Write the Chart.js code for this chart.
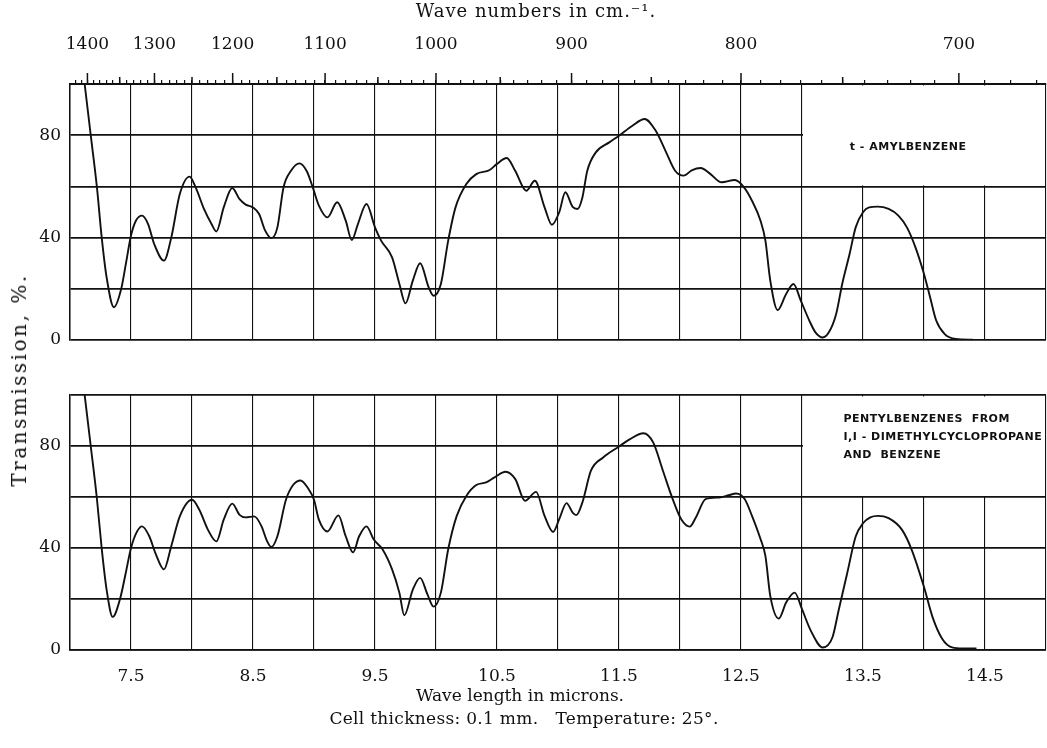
<!DOCTYPE html>
<html>
<head>
<meta charset="utf-8">
<script src="https://cdn.jsdelivr.net/npm/chart.js@4.4.1/dist/chart.umd.min.js"></script>
<style>
  body { margin: 0; background: #fff; }
  #wrap { position: relative; width: 1047px; height: 748px; overflow: hidden; }
  #topChart { position: absolute; left: 0; top: 0; }
  #bottomChart { position: absolute; left: 0; top: 345px; }
  #ylabel {
    position: absolute; left: 19px; top: 380px;
    transform: translate(-50%, -50%) rotate(-90deg);
    font: 20px "DejaVu Serif", serif; letter-spacing: 2.5px;
    white-space: nowrap; color: #111;
  }
</style>
</head>
<body>
<div id="wrap">
  <canvas id="topChart" width="1047" height="345"></canvas>
  <canvas id="bottomChart" width="1047" height="403"></canvas>
  <div id="ylabel">Transmission, %.</div>
</div>
<script>
// wave length (microns) and transmission (%)
var amylMicrons = [7.12, 7.17, 7.22, 7.26, 7.30, 7.36, 7.42, 7.46, 7.50, 7.54,
  7.59, 7.64, 7.69, 7.77, 7.83, 7.90, 7.98, 8.03, 8.10, 8.16,
  8.20, 8.26, 8.33, 8.39, 8.44, 8.50, 8.55, 8.60, 8.65, 8.70,
  8.75, 8.81, 8.88, 8.94, 8.99, 9.04, 9.11, 9.19, 9.26, 9.31,
  9.36, 9.43, 9.50, 9.55, 9.64, 9.70, 9.75, 9.81, 9.87, 9.94,
  9.98, 10.04, 10.10, 10.16, 10.25, 10.33, 10.44, 10.50, 10.58, 10.65,
  10.74, 10.81, 10.89, 10.95, 11.01, 11.06, 11.12, 11.16, 11.20, 11.24,
  11.31, 11.42, 11.50, 11.61, 11.71, 11.80, 11.88, 11.96, 12.03, 12.10,
  12.17, 12.25, 12.34, 12.45, 12.52, 12.59, 12.66, 12.70, 12.74, 12.80,
  12.87, 12.93, 12.99, 13.06, 13.11, 13.17, 13.22, 13.28, 13.33, 13.39,
  13.44, 13.50, 13.55, 13.62, 13.71, 13.79, 13.86, 13.93, 14.00, 14.05,
  14.10, 14.17, 14.26, 14.40];
var amylTrans = [100, 80, 60, 40, 24.5, 12.8, 20, 30.3, 40.8, 46.6,
  48.6, 45.3, 37.5, 31, 40, 57, 63.8, 59.6, 51, 45.3,
  42.4, 51.8, 59.4, 55, 52.9, 51.8, 49.2, 42.7, 39.8, 44,
  59.6, 66, 69, 66, 59.6, 52.5, 47.9, 53.8, 46.6, 39,
  45.3, 53.1, 44, 38.8, 32.3, 21.9, 14.3, 23.2, 30, 20.6,
  17.3, 21.9, 38.8, 51.8, 61, 64.8, 66.4, 68.8, 71.1, 66,
  58.3, 62.2, 51.8, 45, 49.9, 57.7, 52, 51.2, 55.7, 66.1,
  73.3, 77.2, 79.8, 83.7, 86.3, 81.8, 74, 66.1, 64.2, 66.4,
  67.2, 64.8, 61.6, 62.5, 59.9, 54.4, 46.6, 38.8, 23.2, 11.7,
  18, 21.9, 15.4, 7.6, 3, 1, 3, 10.2, 22, 33.6,
  44, 49.9, 51.8, 52.1, 51.2, 48.6, 44, 36.2, 25.8, 16.7,
  7.6, 2.3, 0.4, 0.1];

var pentylMicrons = [7.12, 7.17, 7.22, 7.26, 7.30, 7.35, 7.41, 7.46, 7.50, 7.55,
  7.59, 7.65, 7.70, 7.77, 7.83, 7.90, 8.00, 8.06, 8.13, 8.20,
  8.26, 8.33, 8.39, 8.44, 8.51, 8.57, 8.61, 8.65, 8.70, 8.77,
  8.83, 8.89, 8.95, 9.00, 9.04, 9.11, 9.20, 9.26, 9.32, 9.37,
  9.43, 9.49, 9.56, 9.64, 9.70, 9.74, 9.81, 9.87, 9.93, 9.98,
  10.04, 10.10, 10.17, 10.25, 10.33, 10.41, 10.48, 10.57, 10.65, 10.73,
  10.82, 10.89, 10.96, 11.01, 11.07, 11.12, 11.15, 11.20, 11.27, 11.37,
  11.50, 11.59, 11.70, 11.78, 11.86, 11.94, 12.01, 12.08, 12.13, 12.21,
  12.32, 12.40, 12.46, 12.53, 12.59, 12.66, 12.70, 12.74, 12.81, 12.87,
  12.94, 13.00, 13.07, 13.17, 13.25, 13.30, 13.37, 13.44, 13.50, 13.56,
  13.62, 13.71, 13.82, 13.90, 14.00, 14.07, 14.15, 14.23, 14.32, 14.43];
var pentylTrans = [100, 80, 59.6, 39.8, 23.7, 13, 20, 30.9, 40, 46.5,
  48.5, 44.6, 38, 31.6, 40.7, 52.4, 58.9, 55, 47.2, 42.6,
  51.1, 57.4, 53, 52, 52.4, 48.5, 43.3, 40.4, 44.6, 58.9,
  64.8, 66.5, 63.5, 58.9, 51.1, 46.5, 52.8, 44.6, 38.3, 44.6,
  48.5, 43.3, 39.6, 31.6, 22.4, 13.6, 23.7, 28.3, 21.8, 17,
  22.5, 39.5, 52.6, 60.5, 64.7, 65.7, 67.7, 69.9, 67, 58.5,
  62, 52.6, 46.3, 51.3, 57.6, 53.9, 52.9, 57.9, 70.3, 75.5,
  79.8, 82.7, 85, 81.4, 70.3, 59.2, 51.3, 48.4, 52, 59.2,
  59.8, 60.7, 61.4, 59.2, 52.6, 43.5, 36.9, 21.2, 12.3, 18.6,
  22.5, 16, 7.8, 1, 5, 15.5, 30, 44.5, 49.7, 52,
  52.6, 51.7, 47.1, 39.2, 24.7, 12.9, 4.3, 1, 0.6, 0.6];

// tick labels
var waveNumberLabels = [1400, 1300, 1200, 1100, 1000, 900, 800, 700];
var micronLabels = [7.5, 8.5, 9.5, 10.5, 11.5, 12.5, 13.5, 14.5];
var transLabels = [0, 40, 80];
var amylName = ["t - AMYLBENZENE"];
var pentylName = ["PENTYLBENZENES  FROM", "I,I - DIMETHYLCYCLOPROPANE", "AND  BENZENE"];

// top scale has a tick every 10 cm-1
var waveTicks = [];
for (var n = 1420; n >= 670; n -= 10) waveTicks.push(n);

var ink = "#111";
var serif = '"DejaVu Serif", serif';
Chart.defaults.font.family = serif;
Chart.defaults.color = ink;

function pairs(xs, ys) {
  return xs.map(function (x, i) { return { x: x, y: ys[i] }; });
}

// blank box in the upper right corner with the sample name
var labelBox = {
  id: "labelBox",
  beforeDatasetsDraw: function (chart, args, opts) {
    var xs = chart.scales.x, ys = chart.scales.y, ctx = chart.ctx;
    var l = xs.getPixelForValue(13), r = xs.getPixelForValue(15);
    var t = ys.getPixelForValue(100), b = ys.getPixelForValue(60);
    ctx.save();
    ctx.fillStyle = "#fff";
    ctx.fillRect(l + 1, t + 1.5, r - l - 2, b - t - 2.5);
    ctx.fillStyle = ink;
    ctx.font = 'bold 11px "DejaVu Sans", sans-serif';
    ctx.letterSpacing = "0.5px";
    ctx.textAlign = opts.align;
    ctx.textBaseline = "middle";
    var tx = xs.getPixelForValue(opts.x), ty = ys.getPixelForValue(opts.y);
    opts.lines.forEach(function (s, i) { ctx.fillText(s, tx, ty + i * 18); });
    ctx.restore();
  }
};

// axis captions, set a little left of the plot centre as in the print
var captions = {
  id: "captions",
  afterDraw: function (chart, args, opts) {
    var a = chart.chartArea, ctx = chart.ctx;
    ctx.save();
    ctx.fillStyle = ink;
    ctx.textAlign = "center";
    ctx.textBaseline = "middle";
    opts.items.forEach(function (it) {
      ctx.font = it.size + "px " + serif;
      ctx.letterSpacing = it.spacing + "px";
      ctx.fillText(it.text, (a.left + a.right) / 2 + it.dx, it.y);
    });
    ctx.restore();
  }
};

// longer marks on the wave number scale at 50 and 100
var waveMarks = {
  id: "waveMarks",
  afterDraw: function (chart) {
    var s = chart.scales.x2, ctx = chart.ctx;
    ctx.save();
    ctx.strokeStyle = ink;
    ctx.lineWidth = 1.5;
    waveTicks.forEach(function (n) {
      var len = n % 100 === 0 ? 11 : (n % 50 === 0 ? 7 : 0);
      if (!len) return;
      var px = s.getPixelForValue(1e4 / n);
      ctx.beginPath();
      ctx.moveTo(px, s.bottom);
      ctx.lineTo(px, s.bottom - len);
      ctx.stroke();
    });
    ctx.restore();
  }
};

function noPad(s) {
  s.paddingLeft = 0; s.paddingRight = 0; s.paddingTop = 0; s.paddingBottom = 0;
}

function yScale() {
  return {
    min: 0, max: 100,
    ticks: {
      stepSize: 20, padding: 9, font: { size: 17 },
      callback: function (v) { return transLabels.indexOf(v) >= 0 ? v : ""; }
    },
    grid: { color: ink, lineWidth: 1.8, drawTicks: false },
    border: { color: ink, width: 1.5 },
    afterFit: function (s) { s.width = 70; noPad(s); }
  };
}

function lineSet(xs, ys) {
  return {
    data: pairs(xs, ys),
    borderColor: ink,
    borderWidth: 1.9,
    pointRadius: 0,
    cubicInterpolationMode: "monotone",
    fill: false
  };
}

var topChart = new Chart(document.getElementById("topChart"), {
  type: "line",
  data: { datasets: [lineSet(amylMicrons, amylTrans)] },
  options: {
    responsive: false, animation: false,
    layout: { padding: { left: 0, right: 1, top: 0, bottom: 0 } },
    plugins: {
      legend: { display: false }, tooltip: { enabled: false },
      labelBox: { lines: amylName, x: 13.87, y: 75.5, align: "center" },
      captions: { items: [
        { text: "Wave numbers in cm.\u207B\u00B9.", size: 18, spacing: 1, dx: -22, y: 12 }
      ] }
    },
    scales: {
      x: {
        type: "linear", min: 7, max: 15,
        ticks: { stepSize: 0.5, display: false },
        grid: { color: ink, lineWidth: 1.1, drawTicks: false },
        border: { display: false },
        afterFit: function (s) { s.height = 5; noPad(s); }
      },
      x2: {
        type: "linear", position: "top", min: 7, max: 15,
        afterBuildTicks: function (s) {
          s.ticks = waveTicks.map(function (n) { return { value: 1e4 / n }; });
        },
        ticks: {
          autoSkip: false, maxRotation: 0, padding: 25, font: { size: 17 },
          callback: function (v) {
            var n = Math.round(1e4 / v);
            return waveNumberLabels.indexOf(n) >= 0 ? String(n) : "";
          }
        },
        grid: { drawOnChartArea: false, color: ink, tickLength: 4, lineWidth: 1.2 },
        border: { color: ink, width: 2 },
        afterFit: function (s) { s.height = 84; noPad(s); }
      },
      y: yScale()
    }
  },
  plugins: [labelBox, waveMarks, captions]
});

var bottomChart = new Chart(document.getElementById("bottomChart"), {
  type: "line",
  data: { datasets: [lineSet(pentylMicrons, pentylTrans)] },
  options: {
    responsive: false, animation: false,
    layout: { padding: { left: 0, right: 1, top: 50, bottom: 0 } },
    plugins: {
      legend: { display: false }, tooltip: { enabled: false },
      labelBox: { lines: pentylName, x: 13.34, y: 90.6, align: "left" },
      captions: { items: [
        { text: "Wave length in microns.", size: 17, spacing: 0, dx: -38, y: 352 },
        { text: "Cell thickness: 0.1 mm.   Temperature: 25\u00B0.", size: 17, spacing: 0.3, dx: -34, y: 375 }
      ] }
    },
    scales: {
      x: {
        type: "linear", min: 7, max: 15,
        ticks: {
          stepSize: 0.5, padding: 16, autoSkip: false, maxRotation: 0, font: { size: 17 },
          callback: function (v) {
            return micronLabels.indexOf(v) >= 0 ? v.toFixed(1) : "";
          }
        },
        grid: { color: ink, lineWidth: 1.1, drawTicks: false },
        border: { color: ink, width: 1.5 },
        afterFit: function (s) { s.height = 98; noPad(s); }
      },
      y: yScale()
    }
  },
  plugins: [labelBox, captions]
});
</script>
</body>
</html>
